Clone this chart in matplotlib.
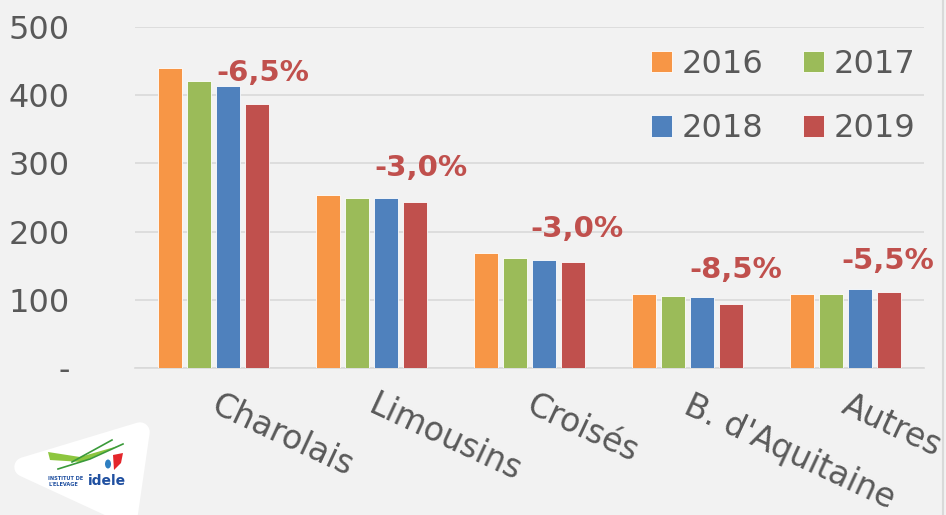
import matplotlib
matplotlib.use("Agg")
import matplotlib.pyplot as plt
import numpy as np
from matplotlib.patches import Polygon, Ellipse
from matplotlib.lines import Line2D
from matplotlib.transforms import ScaledTranslation

categories = ["Charolais", "Limousins", "Croisés", "B. d'Aquitaine", "Autres"]
years = ["2016", "2017", "2018", "2019"]
v2016 = [440, 253, 168, 108, 108]
v2017 = [421, 250, 162, 105, 108]
v2018 = [414, 250, 158, 104, 116]
v2019 = [387, 244, 155, 94, 111]
changes = ["-6,5%", "-3,0%", "-3,0%", "-8,5%", "-5,5%"]
yticks = [0, 100, 200, 300, 400, 500]
yticklabels = ["-", "100", "200", "300", "400", "500"]

colors = ["#F79646", "#9BBB59", "#4F81BD", "#C0504D"]
series = [v2016, v2017, v2018, v2019]
BG = "#F2F2F2"
TXT = "#595959"
W, H = 946, 515

fig = plt.figure(figsize=(W / 100, H / 100), dpi=100, facecolor=BG)
ax = fig.add_axes([135 / W, 1 - 368 / H, (924 - 135) / W, (368 - 27) / H])
ax.set_facecolor(BG)

x = np.arange(len(categories))
period = 0.1835
bw = 0.152
handles = []
for i, (vals, c, lab) in enumerate(zip(series, colors, years)):
    b = ax.bar(x + (i - 1.5) * period, vals, width=bw, color=c, label=lab,
               edgecolor="#FFFFFF", linewidth=0.6, zorder=3)
    handles.append(b)

ax.set_xlim(-0.5, len(categories) - 0.5)
ax.set_ylim(0, 500)
ax.set_yticks(yticks)
ax.set_yticklabels(yticklabels, fontsize=23, color=TXT)
ax.tick_params(axis="y", length=0, pad=47)
ax.grid(axis="y", color="#D9D9D9", linewidth=1.2, zorder=0)
for s in ["top", "right", "left"]:
    ax.spines[s].set_visible(False)
ax.spines["bottom"].set_color("#D9D9D9")
ax.spines["bottom"].set_linewidth(1.2)

ax.set_xticks(x)
ax.set_xticklabels(categories, fontsize=23.6, color=TXT, rotation=-25,
                   ha="left", va="top", rotation_mode="anchor")
ax.tick_params(axis="x", length=0, pad=15)
shift = ScaledTranslation(6 / 100, 0, fig.dpi_scale_trans)
for lbl in ax.get_xticklabels():
    lbl.set_transform(lbl.get_transform() + shift)

# percentage change labels
lab_dx = [0.307, 0.31, 0.30, 0.31, 0.27]
lab_y = [433, 293, 204, 144, 157]
for i, (t, dx, yy) in enumerate(zip(changes, lab_dx, lab_y)):
    ax.text(x[i] + dx, yy, t, color="#C0504D", fontsize=21, fontweight="bold",
            ha="center", va="center", zorder=5)

order = [0, 2, 1, 3]
leg = ax.legend([handles[k] for k in order], [years[k] for k in order],
                ncol=2, loc="upper right", bbox_to_anchor=(931 / W, 1 - 33 / H),
                bbox_transform=fig.transFigure, frameon=False, fontsize=23,
                handlelength=0.65, handleheight=0.65, handletextpad=0.3,
                columnspacing=1.25, labelspacing=1.04, borderpad=0)
for t in leg.get_texts():
    t.set_color(TXT)

# right border line
fig.add_artist(Line2D([943 / W, 943 / W], [0, 1], transform=fig.transFigure,
                      color="#D9D9D9", linewidth=1.5))

# logo (approximation)
def P(px, py):
    return (px / W, 1 - py / H)

shape = Polygon([P(24, 467), P(140, 432), P(128, 515)], closed=True,
                transform=fig.transFigure, facecolor="white", edgecolor="white",
                linewidth=14, joinstyle="round")
fig.add_artist(shape)
sw = Polygon([P(48, 452), P(80, 457), P(118, 446), P(82, 462), P(50, 460)], closed=True,
             transform=fig.transFigure, facecolor="#8DC63F", edgecolor="none")
fig.add_artist(sw)
fig.add_artist(Line2D([P(58, 469)[0], P(90, 459)[0], P(123, 444)[0]],
                      [P(58, 469)[1], P(90, 459)[1], P(123, 444)[1]],
                      transform=fig.transFigure, color="#3A9A3A", linewidth=1.2))
fig.add_artist(Line2D([P(72, 462)[0], P(112, 440)[0]], [P(72, 462)[1], P(112, 440)[1]],
                      transform=fig.transFigure, color="#3A9A3A", linewidth=1.2))
red = Polygon([P(113, 455), P(123, 453), P(121, 463), P(114, 470)], closed=True,
              transform=fig.transFigure, facecolor="#E4262B", edgecolor="none")
fig.add_artist(red)
fig.add_artist(Ellipse(P(108, 464), 6 / W, 9 / H, transform=fig.transFigure,
                       facecolor="#2E7FC1", edgecolor="none"))
fig.text(48 / W, 1 - 478 / H, "INSTITUT DE", fontsize=3.6, fontweight="bold",
         color="#1F4FA0", va="center", ha="left")
fig.text(48 / W, 1 - 485 / H, "L'ELEVAGE", fontsize=3.6, fontweight="bold",
         color="#1F4FA0", va="center", ha="left")
fig.text(88 / W, 1 - 481 / H, "idele", fontsize=10, fontweight="bold",
         color="#1F4FA0", va="center", ha="left")

fig.savefig("out.png", dpi=100, facecolor=BG)
